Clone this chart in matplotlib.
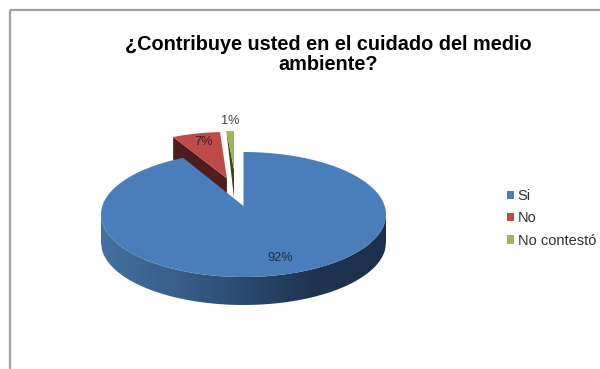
import numpy as np
import matplotlib
matplotlib.use("Agg")
import matplotlib.pyplot as plt
from matplotlib.patches import Patch, Polygon, Rectangle
from matplotlib.colors import LinearSegmentedColormap

plt.rcParams['font.family'] = ['Liberation Sans', 'DejaVu Sans']

# Survey results
categories = ["Si", "No", "No contestó"]
shares = [92, 7, 1]
title_text = "¿Contribuye usted en el cuidado del medio\nambiente?"

# Styling of each slice: top surface and cut face
top_colors = ["#4a7ebb", "#be4b48", "#98b954"]
side_colors = ["#1f3552", "#4f1d1b", "#36471a"]
# Rim ellipse of each slice in figure pixels: centre x, centre y, radius x, radius y
slice_rims = [(243.5, 214.5, 142.5, 62.5),
              (226.9, 185.6, 127.0, 53.6),
              (234.0, 176.0, 138.0, 45.0)]
# How far the cut face drops below the outer corner of each slice
corner_drop = [28, 24, 1]
DEPTH = 28
APEX_SHIFT = 0.136  # the apex sits behind the ellipse centre in the tilted view

fig = plt.figure(figsize=(6, 3.69), dpi=100)
ax = fig.add_axes([0, 0, 1, 1])


def rim_points(a0, a1, rim, n=240):
    """Project clockwise pie angles (degrees from 12 o'clock) onto a tilted rim."""
    cx, cy, rx, ry = rim
    th = np.radians(np.linspace(a0, a1, n))
    dx, dy = np.sin(th), np.cos(th)
    pd = APEX_SHIFT * dy
    t = -pd + np.sqrt(pd ** 2 + 1 - APEX_SHIFT ** 2)
    return cx + rx * t * dx, cy - ry * (APEX_SHIFT + t * dy)


def apex(rim):
    return rim[0], rim[1] - APEX_SHIFT * rim[3]


ends = np.cumsum([0] + shares) / sum(shares) * 360.0
starts, stops = ends[:-1], ends[1:]

# Rim wall of the large slice with its left-to-right shading
cx, cy, rx, ry = slice_rims[0]
xs = np.linspace(cx - rx, cx + rx, 300)
upper = cy + ry * np.sqrt(np.clip(1 - ((xs - cx) / rx) ** 2, 0, 1))
wall = np.column_stack([np.r_[xs, xs[::-1]], np.r_[upper, (upper + DEPTH)[::-1]]])
shade = LinearSegmentedColormap.from_list(
    "wall", ["#44709f", "#3a608c", "#2b4a70", "#1e3450", "#1c304b"])
img = ax.imshow(np.linspace(0, 1, 256)[None, :], cmap=shade, aspect="auto",
                extent=(cx - rx, cx + rx, cy + ry + DEPTH, cy - 5), zorder=1)
wall_patch = Polygon(wall, closed=True, transform=ax.transData, fc="none", ec="none")
ax.add_patch(wall_patch)
img.set_clip_path(wall_patch)

# Cut faces and top surfaces of the two pulled-out slices
for i in (1, 2):
    rim = slice_rims[i]
    ax_, ay_ = apex(rim)
    rx_pts, ry_pts = rim_points(starts[i], stops[i], rim)
    ax.fill([rx_pts[0], ax_, ax_, rx_pts[0]],
            [ry_pts[0], ay_, ay_ + DEPTH, ry_pts[0] + corner_drop[i]],
            color=side_colors[i], lw=0, zorder=2)
    ax.fill(np.r_[ax_, rx_pts], np.r_[ay_, ry_pts], color=top_colors[i], lw=0, zorder=3)

# Top surface of the large slice, drawn over the cut faces behind it
rim = slice_rims[0]
px, py = rim_points(starts[0], stops[0], rim, n=720)
ax_, ay_ = apex(rim)
ax.fill(np.r_[ax_, px], np.r_[ay_, py], color=top_colors[0], lw=0, zorder=4)

# Percentage labels
label_pos = [(280, 258), (204, 142), (230, 120.5)]
label_colors = ["#1f2f45", "#3a2020", "#404040"]
for share, (lx, ly), c in zip(shares, label_pos, label_colors):
    ax.text(lx, ly, f"{share}%", ha="center", va="center", fontsize=9.2, color=c, zorder=6)

ax.text(328, 54.5, title_text, ha="center", va="center", fontsize=14.3,
        fontweight="bold", color="black", linespacing=1.1, zorder=6)

# Outer chart frame, open on the right and bottom edges
ax.add_patch(Rectangle((10, 10), 620, 400, fc="none", ec="#a3a3a3", lw=1.6, zorder=5))

handles = [Patch(fc=c, ec="none", label=n) for c, n in zip(top_colors, categories)]
ax.legend(handles=handles, loc="center left", bbox_to_anchor=(506.5, 218.5),
          bbox_transform=ax.transData, frameon=False, fontsize=10.5,
          handlelength=0.5, handleheight=0.5, handletextpad=0.27,
          labelspacing=0.56, borderpad=0, borderaxespad=0, labelcolor="#303030")

ax.set_xlim(0, 600)
ax.set_ylim(369, 0)
ax.axis("off")
fig.savefig("out.png", dpi=100, facecolor="white")
